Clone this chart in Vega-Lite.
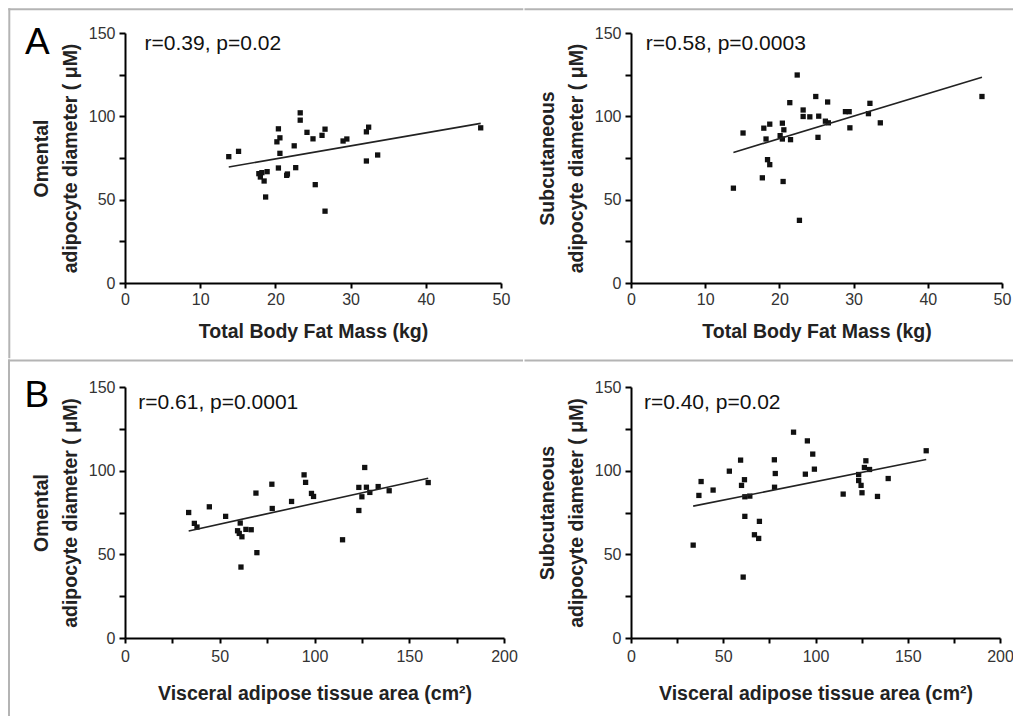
{
  "$schema": "https://vega.github.io/schema/vega-lite/v6.json",
  "background": "white",
  "padding": {"left": 7, "top": 7, "right": 0, "bottom": 0},
  "config": {
    "view": {"stroke": null},
    "font": "Liberation Sans",
    "axis": {
      "grid": false,
      "labelFlush": false,
      "domainColor": "#000",
      "domainWidth": 2,
      "tickColor": "#000",
      "tickWidth": 2,
      "labelFont": "Liberation Sans",
      "labelFontSize": 16,
      "labelColor": "#333",
      "titleFont": "Liberation Sans",
      "titleFontSize": 19.5,
      "titleFontWeight": "bold",
      "titleColor": "#222",
      "titleLineHeight": 28.5
    },
    "axisX": {"tickSize": 5, "labelPadding": 3, "titlePadding": 15},
    "axisY": {"tickSize": 6, "labelPadding": 4, "titlePadding": 8}
  },
  "datasets": {
    "frame": [{"part": "panel border"}],
    "omental_vs_fat": [
      {"fat_mass": 13.8, "omental": 75.8}, {"fat_mass": 15.1, "omental": 79.0}, {"fat_mass": 17.8, "omental": 65.6},
      {"fat_mass": 18.0, "omental": 63.6}, {"fat_mass": 18.2, "omental": 66.2}, {"fat_mass": 18.9, "omental": 66.8},
      {"fat_mass": 18.5, "omental": 61.2}, {"fat_mass": 18.7, "omental": 51.6}, {"fat_mass": 20.4, "omental": 92.5},
      {"fat_mass": 20.6, "omental": 87.1}, {"fat_mass": 20.2, "omental": 84.7}, {"fat_mass": 20.6, "omental": 77.8},
      {"fat_mass": 20.4, "omental": 69.0}, {"fat_mass": 21.5, "omental": 64.6}, {"fat_mass": 21.6, "omental": 65.4},
      {"fat_mass": 22.7, "omental": 69.2}, {"fat_mass": 22.5, "omental": 82.3}, {"fat_mass": 23.3, "omental": 102.1},
      {"fat_mass": 23.3, "omental": 97.7}, {"fat_mass": 24.2, "omental": 90.4}, {"fat_mass": 25.0, "omental": 86.5},
      {"fat_mass": 25.3, "omental": 59.0}, {"fat_mass": 26.2, "omental": 88.6}, {"fat_mass": 26.6, "omental": 92.3},
      {"fat_mass": 26.6, "omental": 43.1}, {"fat_mass": 29.0, "omental": 85.2}, {"fat_mass": 29.5, "omental": 86.4},
      {"fat_mass": 32.1, "omental": 90.7}, {"fat_mass": 32.4, "omental": 93.5}, {"fat_mass": 32.1, "omental": 73.2},
      {"fat_mass": 33.6, "omental": 76.8}, {"fat_mass": 47.3, "omental": 93.1}
    ],
    "subcutaneous_vs_fat": [
      {"fat_mass": 13.8, "subcutaneous": 56.9}, {"fat_mass": 15.1, "subcutaneous": 90.0}, {"fat_mass": 17.9, "subcutaneous": 92.9},
      {"fat_mass": 18.7, "subcutaneous": 95.3}, {"fat_mass": 18.2, "subcutaneous": 86.4}, {"fat_mass": 18.4, "subcutaneous": 74.0},
      {"fat_mass": 18.7, "subcutaneous": 71.0}, {"fat_mass": 17.7, "subcutaneous": 63.1}, {"fat_mass": 20.4, "subcutaneous": 95.9},
      {"fat_mass": 20.6, "subcutaneous": 91.9}, {"fat_mass": 20.1, "subcutaneous": 88.4}, {"fat_mass": 20.4, "subcutaneous": 86.4},
      {"fat_mass": 21.5, "subcutaneous": 86.0}, {"fat_mass": 20.5, "subcutaneous": 60.9}, {"fat_mass": 21.4, "subcutaneous": 108.2},
      {"fat_mass": 22.4, "subcutaneous": 124.8}, {"fat_mass": 23.2, "subcutaneous": 103.8}, {"fat_mass": 23.2, "subcutaneous": 99.9},
      {"fat_mass": 24.1, "subcutaneous": 99.7}, {"fat_mass": 24.9, "subcutaneous": 111.9}, {"fat_mass": 25.3, "subcutaneous": 100.1},
      {"fat_mass": 26.5, "subcutaneous": 108.6}, {"fat_mass": 26.2, "subcutaneous": 97.1}, {"fat_mass": 26.6, "subcutaneous": 96.1},
      {"fat_mass": 25.2, "subcutaneous": 87.4}, {"fat_mass": 22.7, "subcutaneous": 37.6}, {"fat_mass": 28.9, "subcutaneous": 102.8},
      {"fat_mass": 29.4, "subcutaneous": 102.8}, {"fat_mass": 29.5, "subcutaneous": 93.1}, {"fat_mass": 32.2, "subcutaneous": 107.8},
      {"fat_mass": 32.0, "subcutaneous": 101.6}, {"fat_mass": 33.6, "subcutaneous": 96.1}, {"fat_mass": 47.3, "subcutaneous": 111.9}
    ],
    "omental_vs_vat": [
      {"vat": 33.6, "omental": 75.0}, {"vat": 36.6, "omental": 68.5}, {"vat": 38.0, "omental": 66.3}, {"vat": 44.5, "omental": 78.4},
      {"vat": 53.1, "omental": 72.7}, {"vat": 60.8, "omental": 68.7}, {"vat": 59.4, "omental": 64.1}, {"vat": 60.3, "omental": 62.5},
      {"vat": 61.7, "omental": 60.5}, {"vat": 63.8, "omental": 64.9}, {"vat": 66.6, "omental": 64.7}, {"vat": 61.2, "omental": 42.4},
      {"vat": 69.6, "omental": 51.0}, {"vat": 69.1, "omental": 86.6}, {"vat": 77.5, "omental": 91.9}, {"vat": 77.7, "omental": 77.4},
      {"vat": 87.9, "omental": 81.6}, {"vat": 94.5, "omental": 97.5}, {"vat": 95.3, "omental": 93.0}, {"vat": 98.4, "omental": 86.4},
      {"vat": 99.5, "omental": 84.6}, {"vat": 114.8, "omental": 58.7}, {"vat": 123.4, "omental": 90.0}, {"vat": 123.4, "omental": 76.2},
      {"vat": 126.5, "omental": 101.9}, {"vat": 127.4, "omental": 90.1}, {"vat": 125.0, "omental": 84.4}, {"vat": 129.2, "omental": 87.0},
      {"vat": 133.6, "omental": 90.5}, {"vat": 139.4, "omental": 88.0}, {"vat": 160.0, "omental": 92.9}
    ],
    "subcutaneous_vs_vat": [
      {"vat": 33.7, "subcutaneous": 55.5}, {"vat": 36.8, "subcutaneous": 85.2}, {"vat": 38.0, "subcutaneous": 93.5}, {"vat": 44.5, "subcutaneous": 88.4},
      {"vat": 53.3, "subcutaneous": 99.7}, {"vat": 59.4, "subcutaneous": 106.3}, {"vat": 61.5, "subcutaneous": 94.6}, {"vat": 59.9, "subcutaneous": 91.2},
      {"vat": 61.7, "subcutaneous": 84.4}, {"vat": 64.4, "subcutaneous": 84.8}, {"vat": 61.7, "subcutaneous": 72.7}, {"vat": 60.8, "subcutaneous": 36.4},
      {"vat": 69.6, "subcutaneous": 69.7}, {"vat": 66.9, "subcutaneous": 61.7}, {"vat": 69.2, "subcutaneous": 59.5}, {"vat": 77.7, "subcutaneous": 106.5},
      {"vat": 78.2, "subcutaneous": 98.3}, {"vat": 77.8, "subcutaneous": 90.1}, {"vat": 88.1, "subcutaneous": 123.0}, {"vat": 95.6, "subcutaneous": 117.8},
      {"vat": 98.5, "subcutaneous": 109.9}, {"vat": 94.5, "subcutaneous": 97.9}, {"vat": 99.4, "subcutaneous": 100.9}, {"vat": 115.0, "subcutaneous": 86.0},
      {"vat": 123.4, "subcutaneous": 97.7}, {"vat": 123.4, "subcutaneous": 94.1}, {"vat": 124.7, "subcutaneous": 91.2}, {"vat": 125.2, "subcutaneous": 86.8},
      {"vat": 127.3, "subcutaneous": 105.9}, {"vat": 126.5, "subcutaneous": 101.9}, {"vat": 129.3, "subcutaneous": 100.7}, {"vat": 133.6, "subcutaneous": 84.6},
      {"vat": 139.4, "subcutaneous": 95.3}, {"vat": 160.0, "subcutaneous": 111.9}
    ]
  },
  "spacing": 0,
  "vconcat": [
    {
      "spacing": 0,
      "hconcat": [
        {
          "width": 376, "height": 250,
          "data": {"name": "omental_vs_fat"},
          "layer": [
            {
              "data": {"name": "frame"},
              "mark": {"type": "rule", "color": "#b4b4b4", "strokeWidth": 2, "strokeCap": "square"},
              "encoding": {"x": {"datum": -15.386}, "x2": {"datum": 52.83}, "y": {"datum": 164.22}}
            },
            {
              "data": {"name": "frame"},
              "mark": {"type": "rule", "color": "#b4b4b4", "strokeWidth": 2, "strokeCap": "square"},
              "encoding": {"x": {"datum": -15.386}, "y": {"datum": 164.22}, "y2": {"datum": -44.58}}
            },
            {
              "mark": {"type": "square", "size": 28, "color": "#111", "opacity": 1},
              "encoding": {
                "x": {"field": "fat_mass", "type": "quantitative", "scale": {"domain": [0, 50], "nice": false},
                      "axis": {"title": "Total Body Fat Mass (kg)", "values": [0,5,10,15,20,25,30,35,40,45,50], "labelExpr": "datum.value % 10 === 0 ? datum.label : ''"}},
                "y": {"field": "omental", "type": "quantitative", "scale": {"domain": [0, 150], "nice": false},
                      "axis": {"title": ["Omental", "adipocyte diameter ( μM)"], "values": [0,25,50,75,100,125,150], "labelExpr": "datum.value % 50 === 0 ? datum.label : ''"}}
              }
            },
            {
              "transform": [{"regression": "omental", "on": "fat_mass"}],
              "mark": {"type": "line", "color": "#222", "strokeWidth": 1.6},
              "encoding": {"x": {"field": "fat_mass", "type": "quantitative"}, "y": {"field": "omental", "type": "quantitative"}}
            },
            {
              "data": {"values": [{"label": "r=0.39, p=0.02"}]},
              "mark": {"type": "text", "align": "left", "baseline": "middle", "fontSize": 21, "color": "#111", "font": "Liberation Sans"},
              "encoding": {"x": {"datum": 2.6}, "y": {"datum": 143.5}, "text": {"field": "label"}}
            },
            {
              "data": {"values": [{"panel": "A"}]},
              "mark": {"type": "text", "align": "left", "baseline": "alphabetic", "fontSize": 37, "color": "#000", "font": "Liberation Sans"},
              "encoding": {"x": {"datum": -13.3}, "y": {"datum": 137.5}, "text": {"field": "panel"}}
            }
          ]
        },
        {
          "width": 371, "height": 250,
          "data": {"name": "subcutaneous_vs_fat"},
          "layer": [
            {
              "data": {"name": "frame"},
              "mark": {"type": "rule", "color": "#b4b4b4", "strokeWidth": 2, "strokeCap": "square"},
              "encoding": {"x": {"datum": -14.22}, "x2": {"datum": 51.82}, "y": {"datum": 164.22}}
            },
            {
              "mark": {"type": "square", "size": 28, "color": "#111", "opacity": 1},
              "encoding": {
                "x": {"field": "fat_mass", "type": "quantitative", "scale": {"domain": [0, 50], "nice": false},
                      "axis": {"title": "Total Body Fat Mass (kg)", "values": [0,5,10,15,20,25,30,35,40,45,50], "labelExpr": "datum.value % 10 === 0 ? datum.label : ''"}},
                "y": {"field": "subcutaneous", "type": "quantitative", "scale": {"domain": [0, 150], "nice": false},
                      "axis": {"title": ["Subcutaneous", "adipocyte diameter ( μM)"], "values": [0,25,50,75,100,125,150], "labelExpr": "datum.value % 50 === 0 ? datum.label : ''"}}
              }
            },
            {
              "transform": [{"regression": "subcutaneous", "on": "fat_mass"}],
              "mark": {"type": "line", "color": "#222", "strokeWidth": 1.6},
              "encoding": {"x": {"field": "fat_mass", "type": "quantitative"}, "y": {"field": "subcutaneous", "type": "quantitative"}}
            },
            {
              "data": {"values": [{"label": "r=0.58, p=0.0003"}]},
              "mark": {"type": "text", "align": "left", "baseline": "middle", "fontSize": 21, "color": "#111", "font": "Liberation Sans"},
              "encoding": {"x": {"datum": 2.0}, "y": {"datum": 143.5}, "text": {"field": "label"}}
            }
          ]
        }
      ]
    },
    {
      "spacing": 0,
      "hconcat": [
        {
          "width": 379, "height": 251,
          "data": {"name": "omental_vs_vat"},
          "layer": [
            {
              "data": {"name": "frame"},
              "mark": {"type": "rule", "color": "#b4b4b4", "strokeWidth": 2, "strokeCap": "square"},
              "encoding": {"x": {"datum": -61.21}, "x2": {"datum": 209.5}, "y": {"datum": 165.84}}
            },
            {
              "data": {"name": "frame"},
              "mark": {"type": "rule", "color": "#b4b4b4", "strokeWidth": 2, "strokeCap": "square"},
              "encoding": {"x": {"datum": -61.21}, "y": {"datum": 165.84}, "y2": {"datum": -48.1}}
            },
            {
              "mark": {"type": "square", "size": 28, "color": "#111", "opacity": 1},
              "encoding": {
                "x": {"field": "vat", "type": "quantitative", "scale": {"domain": [0, 200], "nice": false},
                      "axis": {"title": "Visceral adipose tissue area (cm²)", "labelPadding": 5, "titlePadding": 20, "values": [0,25,50,75,100,125,150,175,200], "labelExpr": "datum.value % 50 === 0 ? datum.label : ''"}},
                "y": {"field": "omental", "type": "quantitative", "scale": {"domain": [0, 150], "nice": false},
                      "axis": {"title": ["Omental", "adipocyte diameter ( μM)"], "values": [0,25,50,75,100,125,150], "labelExpr": "datum.value % 50 === 0 ? datum.label : ''"}}
              }
            },
            {
              "transform": [{"regression": "omental", "on": "vat"}],
              "mark": {"type": "line", "color": "#222", "strokeWidth": 1.6},
              "encoding": {"x": {"field": "vat", "type": "quantitative"}, "y": {"field": "omental", "type": "quantitative"}}
            },
            {
              "data": {"values": [{"label": "r=0.61, p=0.0001"}]},
              "mark": {"type": "text", "align": "left", "baseline": "middle", "fontSize": 21, "color": "#111", "font": "Liberation Sans"},
              "encoding": {"x": {"datum": 7}, "y": {"datum": 140.5}, "text": {"field": "label"}}
            },
            {
              "data": {"values": [{"panel": "B"}]},
              "mark": {"type": "text", "align": "left", "baseline": "alphabetic", "fontSize": 37, "color": "#000", "font": "Liberation Sans"},
              "encoding": {"x": {"datum": -53.1}, "y": {"datum": 138}, "text": {"field": "panel"}}
            }
          ]
        },
        {
          "width": 369, "height": 251,
          "data": {"name": "subcutaneous_vs_vat"},
          "layer": [
            {
              "data": {"name": "frame"},
              "mark": {"type": "rule", "color": "#b4b4b4", "strokeWidth": 2, "strokeCap": "square"},
              "encoding": {"x": {"datum": -57.18}, "x2": {"datum": 208.4}, "y": {"datum": 165.84}}
            },
            {
              "mark": {"type": "square", "size": 28, "color": "#111", "opacity": 1},
              "encoding": {
                "x": {"field": "vat", "type": "quantitative", "scale": {"domain": [0, 200], "nice": false},
                      "axis": {"title": "Visceral adipose tissue area (cm²)", "labelPadding": 5, "titlePadding": 20, "values": [0,25,50,75,100,125,150,175,200], "labelExpr": "datum.value % 50 === 0 ? datum.label : ''"}},
                "y": {"field": "subcutaneous", "type": "quantitative", "scale": {"domain": [0, 150], "nice": false},
                      "axis": {"title": ["Subcutaneous", "adipocyte diameter ( μM)"], "values": [0,25,50,75,100,125,150], "labelExpr": "datum.value % 50 === 0 ? datum.label : ''"}}
              }
            },
            {
              "transform": [{"regression": "subcutaneous", "on": "vat"}],
              "mark": {"type": "line", "color": "#222", "strokeWidth": 1.6},
              "encoding": {"x": {"field": "vat", "type": "quantitative"}, "y": {"field": "subcutaneous", "type": "quantitative"}}
            },
            {
              "data": {"values": [{"label": "r=0.40, p=0.02"}]},
              "mark": {"type": "text", "align": "left", "baseline": "middle", "fontSize": 21, "color": "#111", "font": "Liberation Sans"},
              "encoding": {"x": {"datum": 7}, "y": {"datum": 140.5}, "text": {"field": "label"}}
            }
          ]
        }
      ]
    }
  ]
}
